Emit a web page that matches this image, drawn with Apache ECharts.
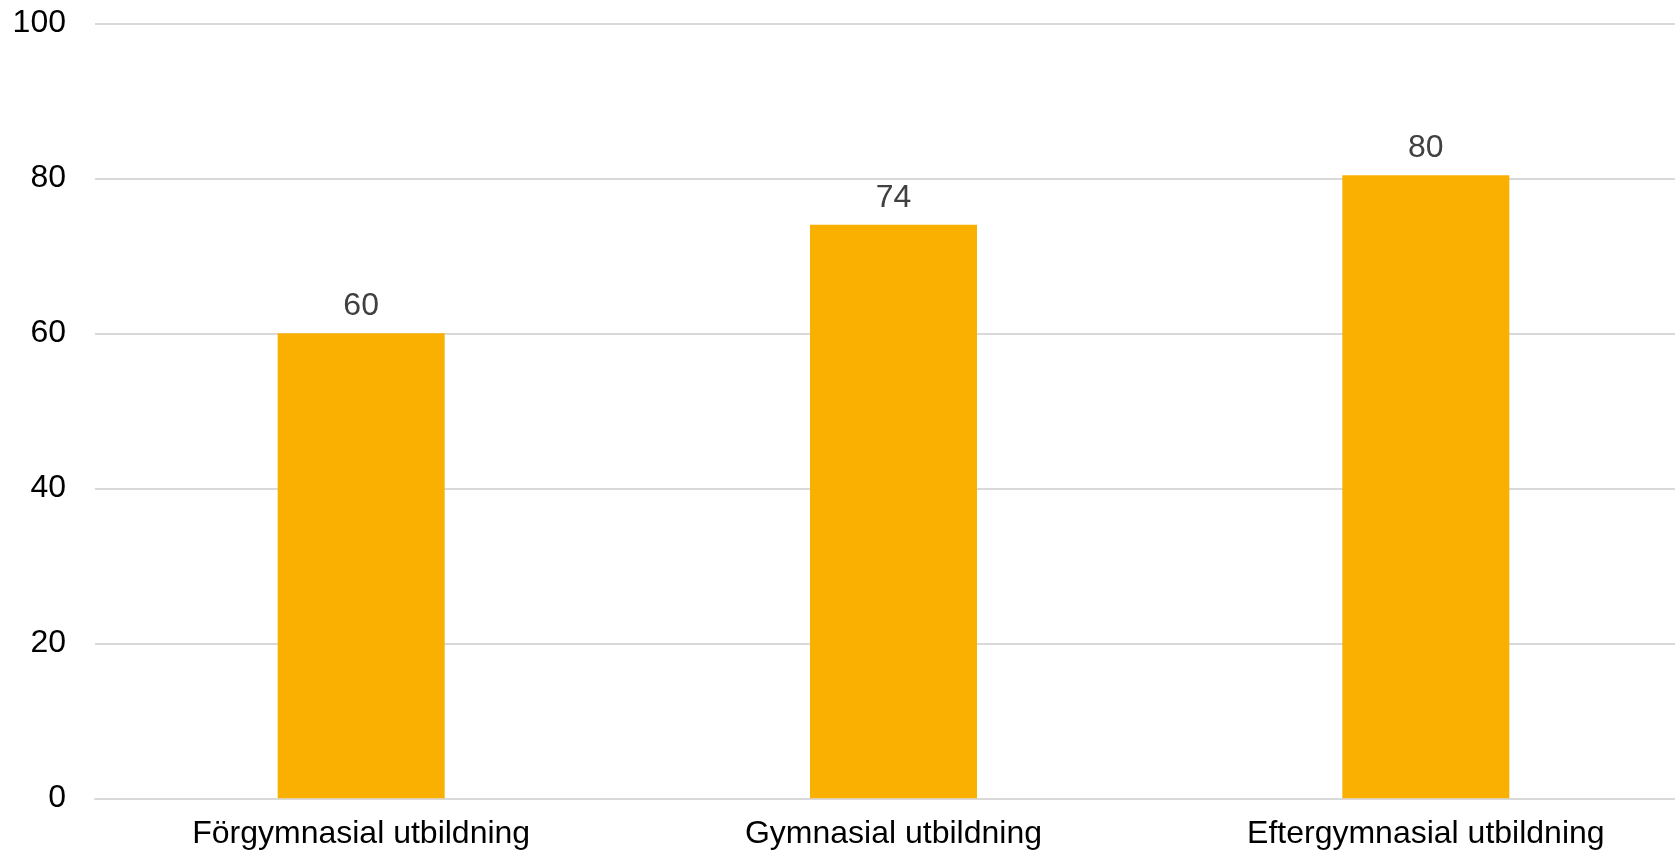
<!DOCTYPE html>
<html>
<head>
<meta charset="utf-8">
<script src="https://cdn.jsdelivr.net/npm/echarts@6/dist/echarts.min.js"></script>
<style>
html,body{margin:0;padding:0;background:#fff;}
#chart{width:1675px;height:854px;}
</style>
</head>
<body>
<div id="chart"></div>
<script>
const categories = ['Förgymnasial utbildning', 'Gymnasial utbildning', 'Eftergymnasial utbildning'];
const values = [60, 74, 80.4];
const yTicks = [0, 20, 40, 60, 80, 100];

const chart = echarts.init(document.getElementById('chart'), null, {renderer: 'canvas'});
const font = '"Liberation Sans", Arial, sans-serif';
chart.setOption({
  animation: false,
  grid: {left: 95, width: 1597, top: 23.3, bottom: 55.7, containLabel: false, outerBoundsMode: 'none'},
  xAxis: {
    type: 'category',
    data: categories,
    axisLine: {show: true, lineStyle: {color: '#D9D9D9', width: 2}},
    axisTick: {show: false},
    axisLabel: {color: '#000', fontFamily: font, fontSize: 32, margin: 20, interval: 0}
  },
  yAxis: {
    type: 'value',
    min: yTicks[0],
    max: yTicks[yTicks.length - 1],
    interval: yTicks[1] - yTicks[0],
    axisLine: {show: false},
    axisTick: {show: false},
    splitLine: {lineStyle: {color: '#D9D9D9', width: 2}},
    axisLabel: {color: '#000', fontFamily: font, fontSize: 32, margin: 29}
  },
  series: [{
    type: 'bar',
    data: values,
    barWidth: 167,
    itemStyle: {color: '#F9B000'},
    label: {
      show: true,
      position: 'top',
      distance: 11,
      color: '#404040',
      fontFamily: font,
      fontSize: 32,
      formatter: p => Math.round(p.value)
    }
  }]
});
</script>
</body>
</html>
